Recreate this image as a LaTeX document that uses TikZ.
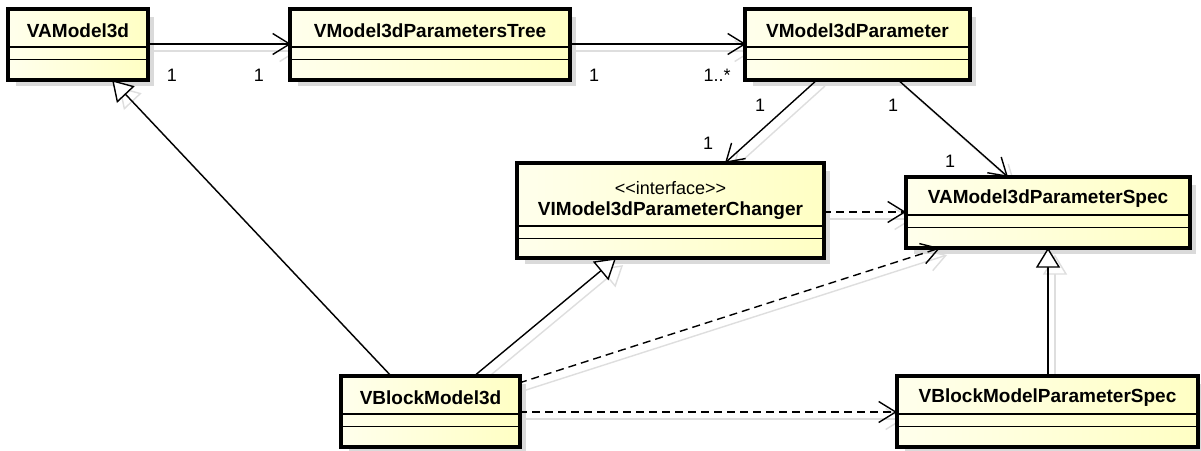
\documentclass[tikz,border=0pt]{standalone}
\usepackage{fontspec}
\setmainfont{Liberation Sans}
\usetikzlibrary{arrows.meta,calc}

\definecolor{boxleft}{RGB}{255,255,236}
\definecolor{boxright}{RGB}{255,255,196}
\definecolor{boxshadow}{RGB}{218,218,218}
\definecolor{linkshadow}{RGB}{222,222,222}

\tikzset{
  classbox/.style={draw=black, line width=2.8pt, rectangle, inner sep=0pt,
    left color=boxleft, right color=boxright},
  classname/.style={font=\fontsize{19}{21}\selectfont\bfseries, inner sep=0pt},
  stereo/.style={font=\fontsize{18}{20}\selectfont, inner sep=0pt},
  divider/.style={line width=1.3pt},
  mult/.style={font=\fontsize{18}{20}\selectfont, inner sep=0pt},
  assoc/.style={line width=1.4pt, -{Straight Barb[length=17pt,width=21pt,line width=1.4pt]}},
  depend/.style={assoc, dash pattern=on 8pt off 5pt},
  genline/.style={draw=black, line width=1.4pt},
  genhead/.style={genline, fill=white, line join=miter},
  linkshade/.style={draw=linkshadow, line width=1.4pt, solid},
  linkshadehead/.style={linkshade, fill=none, line join=miter},
}

% drop shadow of a class box: left x, top y, width, height
\newcommand\classshadow[4]{%
  \fill[boxshadow] (#1+7,#2+7) rectangle ++(#3,#4);
}

% class box: id, left x, top y, width, height, extra header height, name, stereotype
\newcommand\umlclass[8]{%
  \node[classbox, minimum width=#4pt, minimum height=#5pt] (#1) at (#2+#4/2,#3+#5/2) {};
  \ifx\relax#8\relax
    \node[classname] (#1-name) at ($(#1.north)+(0,22)$) {#7};
  \else
    \node[stereo] (#1-stereo) at ($(#1.north)+(0,25)$) {#8};
    \node[classname] (#1-name) at ($(#1.north)+(0,48)$) {#7};
  \fi
  \draw[divider] ($(#1.north west)+(0,38.5+#6)$) -- ($(#1.north east)+(0,38.5+#6)$);
  \draw[divider] ($(#1.north west)+(0,51+#6)$) -- ($(#1.north east)+(0,51+#6)$);
  \draw[line width=2.8pt] (#1.north west) rectangle (#1.south east);
}

% generalization: line style, head style, from, to (coordinate names)
\newcommand\genlink[4]{%
  \coordinate (#3-#4-base) at ($(#4)!18pt!(#3)$);
  \draw[#1] (#3) -- (#3-#4-base);
  \draw[#2] (#4) -- ($(#3-#4-base)!11pt!90:(#4)$)
    -- ($(#3-#4-base)!11pt!-90:(#4)$) -- cycle;
}

% pale drop shadow of a plain connector: style, from, to
\newcommand\linkshadow[3]{%
  \draw[#1, linkshade] ($#2+(7,7)$) -- ($#3+(7,7)$);
}

\begin{document}
\begin{tikzpicture}[x=1pt, y=-1pt]
  \useasboundingbox (0,0) rectangle (1201,450);
  \fill[white] (0,0) rectangle (1201,450);

  % connector end points
  \coordinate (c1a) at (147,44);   \coordinate (c1b) at (291,44);
  \coordinate (c2a) at (569,44);   \coordinate (c2b) at (746,44);
  \coordinate (c3a) at (818,79);   \coordinate (c3b) at (725,163);
  \coordinate (c4a) at (897,79);   \coordinate (c4b) at (1008,177);
  \coordinate (c5a) at (823,212);  \coordinate (c5b) at (906,212);
  \coordinate (c6a) at (392,377);  \coordinate (c6b) at (113,81);
  \coordinate (c7a) at (473,377);  \coordinate (c7b) at (615,259);
  \coordinate (c8a) at (519,383);  \coordinate (c8b) at (940,248);
  \coordinate (c9a) at (519,412);  \coordinate (c9b) at (897,412);
  \coordinate (c10a) at (1048,377); \coordinate (c10b) at (1048,249);
  % shifted copies for the generalization shadows
  \foreach \c in {c6a,c6b,c7a,c7b,c10a,c10b}
    \coordinate (\c s) at ($(\c)+(7,7)$);

  % box shadows
  \classshadow{9}{10}{138}{69}
  \classshadow{291}{10}{278}{69}
  \classshadow{746}{10}{223}{69}
  \classshadow{518}{164}{305}{93}
  \classshadow{907}{178}{282}{69}
  \classshadow{342}{377}{177}{69}
  \classshadow{898}{377}{299}{69}

  % connector shadows
  \linkshadow{assoc}{(c1a)}{(c1b)}
  \linkshadow{assoc}{(c2a)}{(c2b)}
  \linkshadow{assoc}{(c3a)}{(c3b)}
  \linkshadow{assoc}{(c4a)}{(c4b)}
  \linkshadow{assoc}{(c5a)}{(c5b)}
  \linkshadow{assoc}{(c8a)}{(c8b)}
  \linkshadow{assoc}{(c9a)}{(c9b)}
  \genlink{linkshade}{linkshadehead}{c6as}{c6bs}
  \genlink{linkshade}{linkshadehead}{c7as}{c7bs}
  \genlink{linkshade}{linkshadehead}{c10as}{c10bs}

  % classes
  \umlclass{vam}{9}{10}{138}{69}{0}{VAModel3d}{}
  \umlclass{vpt}{291}{10}{278}{69}{0}{VModel3dParametersTree}{}
  \umlclass{vmp}{746}{10}{223}{69}{0}{VModel3dParameter}{}
  \umlclass{vic}{518}{164}{305}{93}{25}{VIModel3dParameterChanger}{<\kern0pt<interface>\kern0pt>}
  \umlclass{vaps}{907}{178}{282}{69}{0}{VAModel3dParameterSpec}{}
  \umlclass{vbm}{342}{377}{177}{69}{0}{VBlockModel3d}{}
  \umlclass{vbps}{898}{377}{299}{69}{0}{VBlockModelParameterSpec}{}

  % connectors
  \draw[assoc] (c1a) -- (c1b);
  \draw[assoc] (c2a) -- (c2b);
  \draw[assoc] (c3a) -- (c3b);
  \draw[assoc] (c4a) -- (c4b);
  \draw[depend] (c5a) -- (c5b);
  \draw[depend] (c8a) -- (c8b);
  \draw[depend] (c9a) -- (c9b);
  \genlink{genline}{genhead}{c6a}{c6b}
  \genlink{genline}{genhead}{c7a}{c7b}
  \genlink{genline}{genhead}{c10a}{c10b}

  % multiplicities
  \node[mult] (m1) at (172,75) {1};
  \node[mult] (m2) at (259,75) {1};
  \node[mult] (m3) at (594,75) {1};
  \node[mult] (m4) at (717,75) {1..*};
  \node[mult] (m5) at (760,105) {1};
  \node[mult] (m6) at (708,143) {1};
  \node[mult] (m7) at (893,105) {1};
  \node[mult] (m8) at (950,161) {1};
\end{tikzpicture}
\end{document}
